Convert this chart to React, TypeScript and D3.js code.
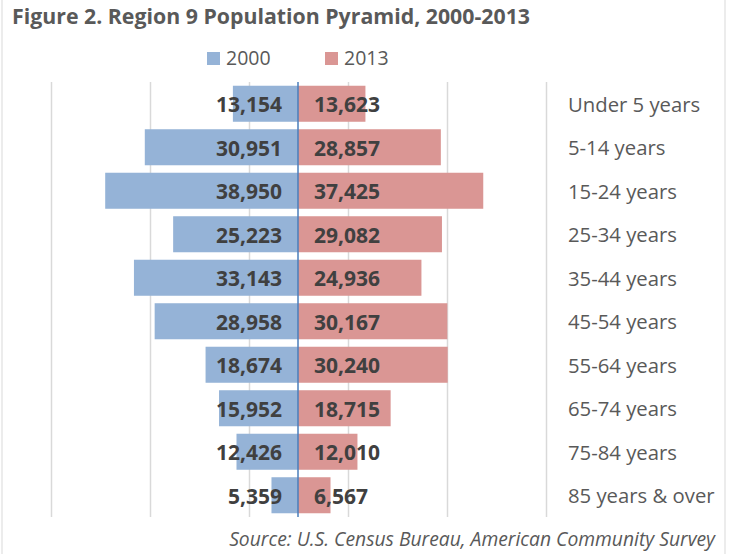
import React from "react";
import * as d3 from "d3";

const categories = [
  "Under 5 years",
  "5-14 years",
  "15-24 years",
  "25-34 years",
  "35-44 years",
  "45-54 years",
  "55-64 years",
  "65-74 years",
  "75-84 years",
  "85 years & over",
];
const values2000 = [13154, 30951, 38950, 25223, 33143, 28958, 18674, 15952, 12426, 5359];
const values2013 = [13623, 28857, 37425, 29082, 24936, 30167, 30240, 18715, 12010, 6567];
const gridTicks = [-50000, -30000, -10000, 10000, 30000, 50000];
const seriesNames = ["2000", "2013"];

const W = 730;
const H = 554;
const FONT = "'Open Sans', sans-serif";

export default function App() {
  const x = d3.scaleLinear().domain([-50000, 50000]).range([50.5, 545.5]);
  const y = d3
    .scaleBand<string>()
    .domain(categories)
    .range([82, 517])
    .paddingInner(0.172)
    .paddingOuter(0.086);
  const fmt = d3.format(",");
  const blue = "#95B3D7";
  const red = "#DA9694";

  return (
    <svg
      width={W}
      height={H}
      style={{ position: "absolute", left: 0, top: 0, background: "#fff" }}
    >
      <rect x={2} y={-5} width={723} height={H + 10} fill="#fff" stroke="#D9D9D9" strokeWidth={1} />
      <text x={12} y={23.5} fontFamily={FONT} fontWeight="bold" fontSize={21.3} fill="#595959">
        Figure 2. Region 9 Population Pyramid, 2000-2013
      </text>
      {/* legend */}
      <g fontFamily={FONT} fontSize={19.5} fill="#595959">
        <rect x={207} y={52} width={13} height={13} fill={blue} />
        <text x={226} y={65}>{seriesNames[0]}</text>
        <rect x={325} y={52} width={13} height={13} fill={red} />
        <text x={344} y={65}>{seriesNames[1]}</text>
      </g>
      {/* gridlines */}
      {gridTicks.map((t) => (
        <line
          key={t}
          x1={Math.round(x(t)) + 0.5}
          x2={Math.round(x(t)) + 0.5}
          y1={82}
          y2={517}
          stroke="#D9D9D9"
          strokeWidth={1.5}
        />
      ))}
      {/* bars */}
      {categories.map((c, i) => (
        <g key={c}>
          <rect
            x={x(-values2000[i])}
            y={y(c)}
            width={x(0) - x(-values2000[i])}
            height={y.bandwidth()}
            fill={blue}
          />
          <rect
            x={x(0)}
            y={y(c)}
            width={x(values2013[i]) - x(0)}
            height={y.bandwidth()}
            fill={red}
          />
        </g>
      ))}
      <line x1={x(0)} x2={x(0)} y1={82} y2={517} stroke="#4A7EBB" strokeWidth={1.5} />
      {/* data labels */}
      {categories.map((c, i) => {
        const cy = (y(c) as number) + y.bandwidth() / 2;
        return (
          <g key={c} fontFamily={FONT} fontWeight="bold" fontSize={21} fill="#404040">
            <text x={x(0) - 16} y={cy + 8.3} textAnchor="end">
              {fmt(values2000[i])}
            </text>
            <text x={x(0) + 16} y={cy + 8.3} textAnchor="start">
              {fmt(values2013[i])}
            </text>
            <text
              x={568}
              y={cy + 7.8}
              fontWeight="normal"
              fontSize={20.3}
              fill="#595959"
            >
              {c}
            </text>
          </g>
        );
      })}
      <text
        x={715}
        y={546}
        textAnchor="end"
        fontFamily={FONT}
        fontStyle="italic"
        fontSize={19.3}
        fill="#595959"
      >
        Source: U.S. Census Bureau, American Community Survey
      </text>
    </svg>
  );
}
